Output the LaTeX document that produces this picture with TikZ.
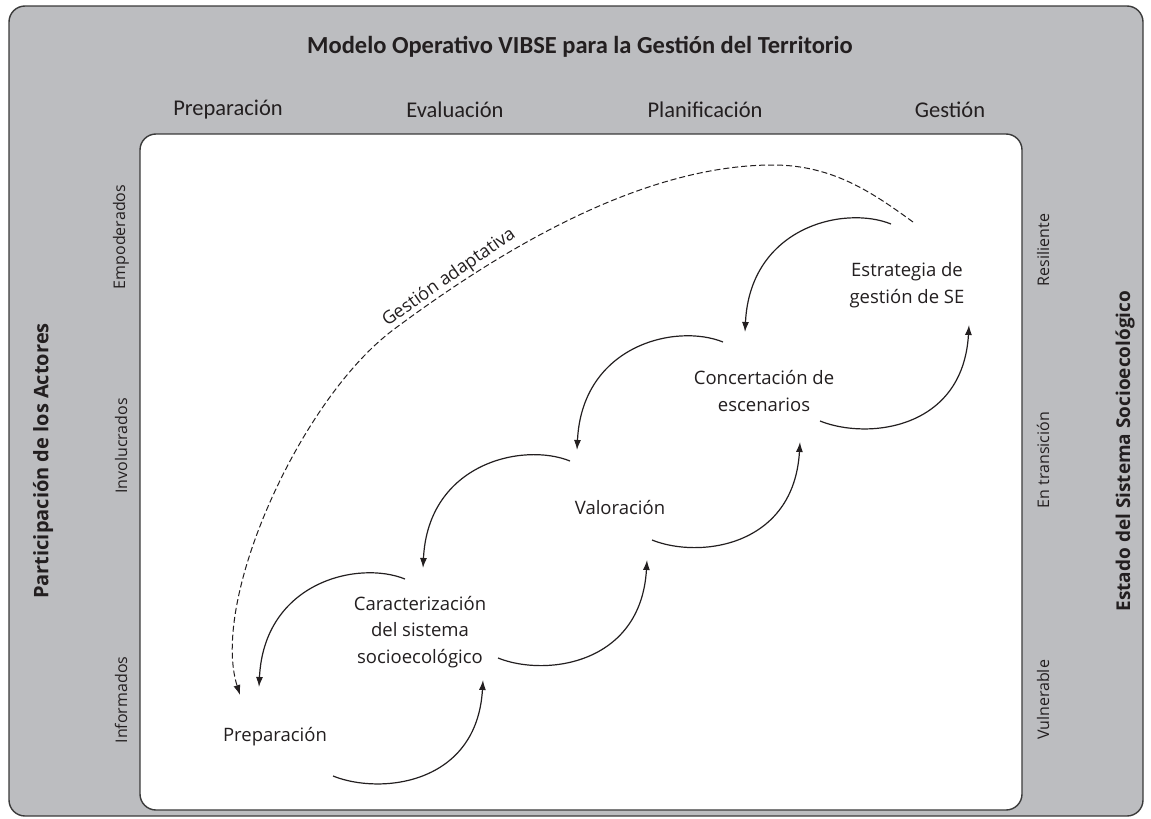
\documentclass[tikz,border=0pt]{standalone}
\usepackage{fontspec}
\setmainfont{Open Sans}
\newfontfamily\titlefont{Carlito}
\usetikzlibrary{arrows.meta}
\definecolor{panelgray}{HTML}{BCBDC0}
\definecolor{edgegray}{HTML}{3A3A3A}
\definecolor{ink}{HTML}{231F20}
\tikzset{
  frame/.style={draw=edgegray, line width=1.4pt, rounded corners=16pt},
  titlelbl/.style={font=\titlefont\bfseries\fontsize{24.5}{28}\selectfont, text=ink},
  phaselbl/.style={font=\titlefont\fontsize{22.5}{26}\selectfont, text=ink},
  sidelbl/.style={font=\fontsize{16}{19}\selectfont, text=ink, rotate=90},
  axislbl/.style={font=\bfseries\fontsize{19.5}{22}\selectfont, text=ink, rotate=90},
  steplbl/.style={font=\fontsize{18.5}{26.5}\selectfont, text=ink, align=center},
  flow/.style={draw=ink, line width=1.2pt, -{Latex[length=10pt,width=7pt]}},
  loopback/.style={draw=ink, line width=1pt, dash pattern=on 6pt off 3pt, -{Latex[length=10pt,width=7pt]}}
}
\begin{document}
\begin{tikzpicture}[x=1pt,y=-1pt]
\useasboundingbox (0,0) rectangle (1151,819);
% panels
\draw[frame, fill=panelgray] (9,6) rectangle (1143,816);
\draw[frame, fill=white] (140,134) rectangle (1022,810);
% titles
\node[titlelbl] (title) at (580,47) {Modelo Operativo VIBSE para la Gestión del Territorio};
\node[phaselbl] (ph1) at (228,110) {Preparación};
\node[phaselbl] (ph2) at (455,110) {Evaluación};
\node[phaselbl] (ph3) at (705,110) {Planificación};
\node[phaselbl] (ph4) at (950,110) {Gestión};
% left axis
\node[axislbl, font=\bfseries\fontsize{20}{22}\selectfont] (actores) at (43,461) {Participación de los Actores};
\node[sidelbl] (emp) at (121,237) {Empoderados};
\node[sidelbl] (inv) at (121,446) {Involucrados};
\node[sidelbl] (inf) at (121,700) {Informados};
% right axis
\node[axislbl, font=\bfseries\fontsize{19}{22}\selectfont] (estado) at (1125,451) {Estado del Sistema Socioecológico};
\node[sidelbl] (res) at (1043,250) {Resiliente};
\node[sidelbl] (tra) at (1043,460) {En transición};
\node[sidelbl] (vul) at (1043,700) {Vulnerable};
% steps
\node[steplbl] (prep) at (275,737) {Preparación};
\node[steplbl] (carac) at (420,632) {Caracterización\\del sistema\\socioecológico};
\node[steplbl] (valor) at (620,507) {Valoración};
\node[steplbl] (conc) at (764,391) {Concertación de\\escenarios};
\node[steplbl] (estr) at (907,285) {Estrategia de\\gestión de SE};
% connector end points
\coordinate (u1s) at (333,776); \coordinate (u1e) at (483,680);
\coordinate (u2s) at (498,658); \coordinate (u2e) at (647,560);
\coordinate (u3s) at (652,540); \coordinate (u3e) at (800,442);
\coordinate (u4s) at (820,421); \coordinate (u4e) at (969,325);
\coordinate (d1s) at (405,579); \coordinate (d1e) at (259,687);
\coordinate (d2s) at (570,461); \coordinate (d2e) at (423,568);
\coordinate (d3s) at (723,342); \coordinate (d3e) at (577,450);
\coordinate (d4s) at (891,224); \coordinate (d4e) at (745,332);
% forward arrows
\foreach \k in {1,2,3,4}{
  \draw[flow] (u\k s) .. controls ([shift={(47,19)}]u\k s) and ([shift={(-6,105)}]u\k e) .. (u\k e);
  \draw[flow] (d\k s) .. controls ([shift={(-47,-19)}]d\k s) and ([shift={(5,-105)}]d\k e) .. (d\k e);
}
% adaptive management loop
\coordinate (g0) at (913,222);
\coordinate (g1) at (773,165);
\coordinate (g2) at (393,330);
\coordinate (g3) at (240,695);
\draw[loopback] (g0) .. controls (873,193) and (833,165) .. (g1)
  .. controls (643,165) and (503,248) .. (g2)
  .. controls (300,400) and (210,600) .. (g3);
\node[font=\fontsize{18}{20}\selectfont, text=ink, rotate=35, anchor=south, inner sep=1pt] (gad) at (455,286) {Gestión adaptativa};
\end{tikzpicture}
\end{document}
